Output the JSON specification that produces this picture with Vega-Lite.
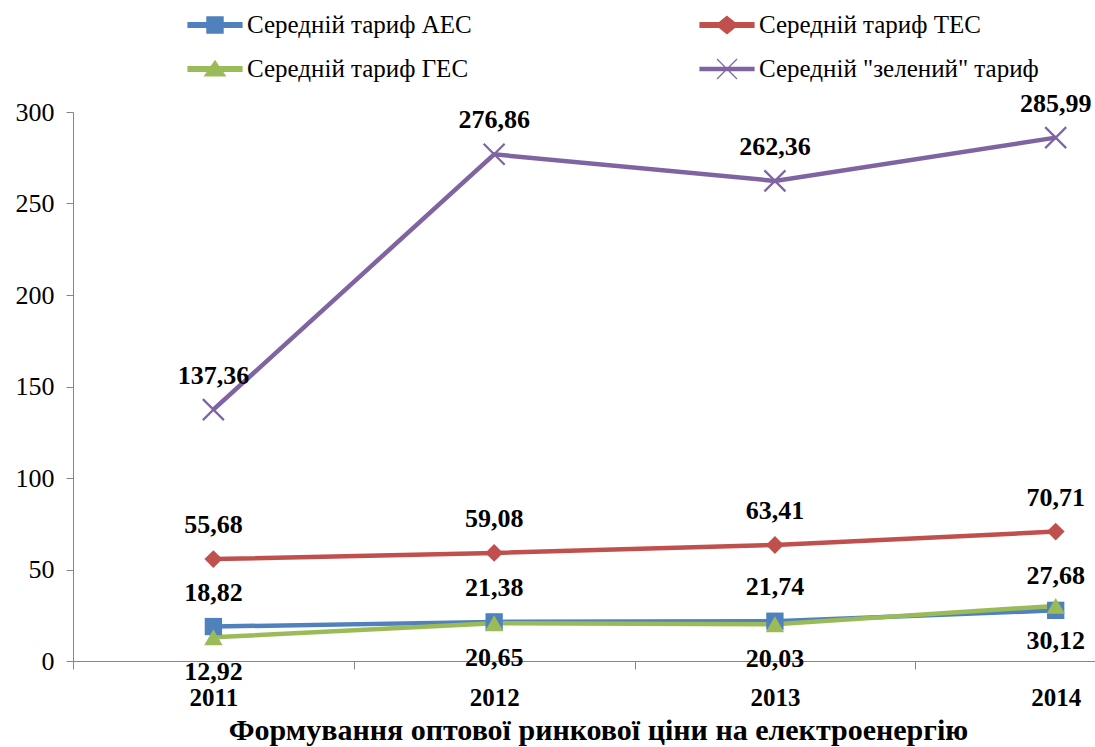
{
  "$schema": "https://vega.github.io/schema/vega-lite/v6.json",
  "width": 1022,
  "height": 549,
  "autosize": {"type": "none"},
  "padding": {"left": 73, "top": 112, "right": 0, "bottom": 86},
  "background": "white",
  "config": {
    "view": {"stroke": null},
    "font": "Liberation Serif",
    "locale": {"number": {"decimal": ",", "thousands": " ", "grouping": [3], "currency": ["", " грн"]}}
  },
  "data": {
    "values": [
      {"year": 2011, "series": "Середній тариф АЕС", "value": 18.82},
      {"year": 2012, "series": "Середній тариф АЕС", "value": 21.38},
      {"year": 2013, "series": "Середній тариф АЕС", "value": 21.74},
      {"year": 2014, "series": "Середній тариф АЕС", "value": 27.68},
      {"year": 2011, "series": "Середній тариф ТЕС", "value": 55.68},
      {"year": 2012, "series": "Середній тариф ТЕС", "value": 59.08},
      {"year": 2013, "series": "Середній тариф ТЕС", "value": 63.41},
      {"year": 2014, "series": "Середній тариф ТЕС", "value": 70.71},
      {"year": 2011, "series": "Середній тариф ГЕС", "value": 12.92},
      {"year": 2012, "series": "Середній тариф ГЕС", "value": 20.65},
      {"year": 2013, "series": "Середній тариф ГЕС", "value": 20.03},
      {"year": 2014, "series": "Середній тариф ГЕС", "value": 30.12},
      {"year": 2011, "series": "Середній \"зелений\" тариф", "value": 137.36},
      {"year": 2012, "series": "Середній \"зелений\" тариф", "value": 276.86},
      {"year": 2013, "series": "Середній \"зелений\" тариф", "value": 262.36},
      {"year": 2014, "series": "Середній \"зелений\" тариф", "value": 285.99}
    ]
  },
  "encoding": {
    "x": {
      "field": "year",
      "type": "quantitative",
      "scale": {"domain": [2010.5, 2014.14], "nice": false, "zero": false},
      "axis": {
        "values": [2010.5, 2011, 2011.5, 2012, 2012.5, 2013, 2013.5, 2014],
        "labelExpr": "datum.value % 1 === 0 ? '' + datum.value : ''",
        "tickOpacity": {"condition": {"test": "datum.value % 1 !== 0", "value": 1}, "value": 0},
        "tickSize": 8,
        "tickColor": "#868686",
        "domainColor": "#868686",
        "labelFont": "Liberation Serif",
        "labelFontWeight": "bold",
        "labelFontSize": 25,
        "labelColor": "#000000",
        "labelPadding": 16,
        "labelOverlap": false,
        "labelFlush": false,
        "grid": false,
        "title": "Формування оптової ринкової ціни на електроенергію",
        "titleFont": "Liberation Serif",
        "titleFontSize": 30,
        "titleFontWeight": "bold",
        "titleColor": "#000000",
        "titlePadding": 5,
        "titleX": 525
      }
    },
    "y": {
      "field": "value",
      "type": "quantitative",
      "scale": {"domain": [0, 300], "nice": false},
      "axis": {
        "values": [0, 50, 100, 150, 200, 250, 300],
        "tickSize": 7,
        "tickColor": "#868686",
        "domainColor": "#868686",
        "labelFont": "Liberation Serif",
        "labelFontSize": 26,
        "labelColor": "#000000",
        "labelPadding": 12,
        "labelFlush": false,
        "grid": false,
        "title": null
      }
    }
  },
  "layer": [
    {
      "mark": {"type": "line", "strokeWidth": 4.5},
      "encoding": {
        "color": {
          "field": "series",
          "type": "nominal",
          "scale": {
            "domain": ["Середній тариф АЕС", "Середній тариф ТЕС", "Середній тариф ГЕС", "Середній \"зелений\" тариф"],
            "range": ["#4F81BD", "#C0504D", "#9BBB59", "#8064A2"]
          },
          "legend": {
            "orient": "none",
            "direction": "horizontal",
            "legendX": 114,
            "legendY": -115,
            "columns": 2,
            "columnPadding": 225,
            "rowPadding": 3,
            "padding": 0,
            "title": null,
            "labelFont": "Liberation Serif",
            "labelFontSize": 25,
            "labelColor": "#000000",
            "labelOffset": 4,
            "labelLimit": 400,
            "symbolSize": 2916,
            "encode": {
              "symbols": {
                "update": {
                  "shape": {"signal": "['M-1,-0.09H1V0.09H-1Z M-0.3,-0.3H0.3V0.3H-0.3Z', 'M-1,-0.09H1V0.09H-1Z M0,-0.32L0.4,0L0,0.32L-0.4,0Z', 'M-1,-0.09H1V0.09H-1Z M0,-0.3L0.38,0.26H-0.38Z', 'M-1,-0.06H1V0.06H-1Z M-0.37,-0.37L0.37,0.37M-0.37,0.37L0.37,-0.37'][datum.index]"},
                  "fill": {"scale": "color", "field": "value"},
                  "stroke": {"scale": "color", "field": "value"},
                  "strokeWidth": {"value": 1.2},
                  "opacity": {"value": 1}
                }
              }
            }
          }
        }
      }
    },
    {
      "transform": [{"filter": "datum.series !== 'Середній \"зелений\" тариф'"}],
      "mark": {"type": "point", "filled": true, "opacity": 1},
      "encoding": {
        "color": {"field": "series", "type": "nominal", "legend": null},
        "shape": {
          "field": "series",
          "type": "nominal",
          "scale": {
            "domain": ["Середній тариф АЕС", "Середній тариф ТЕС", "Середній тариф ГЕС"],
            "range": ["square", "diamond", "triangle-up"]
          },
          "legend": null
        },
        "size": {
          "field": "series",
          "type": "nominal",
          "scale": {
            "domain": ["Середній тариф АЕС", "Середній тариф ТЕС", "Середній тариф ГЕС"],
            "range": [300, 340, 420]
          },
          "legend": null
        }
      }
    },
    {
      "transform": [{"filter": "datum.series === 'Середній \"зелений\" тариф'"}],
      "mark": {"type": "point", "filled": false, "opacity": 1, "strokeWidth": 2.2, "shape": "M-1,-1L1,1M-1,1L1,-1", "size": 441},
      "encoding": {
        "color": {"field": "series", "type": "nominal", "legend": null}
      }
    },
    {
      "transform": [{"filter": "datum.series !== 'Середній тариф ГЕС'"}],
      "mark": {"type": "text", "font": "Liberation Serif", "fontSize": 26, "fontWeight": "bold", "color": "#000000", "baseline": "middle", "dy": -34},
      "encoding": {
        "text": {"field": "value", "type": "quantitative", "format": ".2f"}
      }
    },
    {
      "transform": [{"filter": "datum.series === 'Середній тариф ГЕС'"}],
      "mark": {"type": "text", "font": "Liberation Serif", "fontSize": 26, "fontWeight": "bold", "color": "#000000", "baseline": "middle", "dy": 35},
      "encoding": {
        "text": {"field": "value", "type": "quantitative", "format": ".2f"}
      }
    }
  ]
}
